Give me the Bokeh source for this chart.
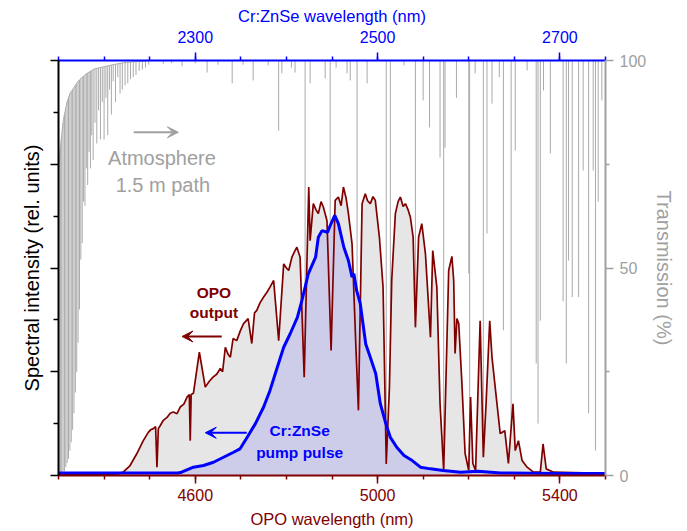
from bokeh.plotting import figure
from bokeh.models import (Range1d, LinearAxis, FixedTicker, Label, Arrow, VeeHead,
                          CustomJSTickFormatter)
from bokeh.embed import file_html
from bokeh.resources import INLINE

FONT = "Liberation Sans"
BROWN = "#800000"
BLUE = "#0000ff"
GREY = "#a0a0a0"
LINE_GREY = "#aaaaaa"

# ---------------- data ----------------
# OPO output spectrum: wavelength (nm) and relative intensity
opo_wl = [4300, 4391, 4431, 4442, 4457, 4472, 4486, 4497, 4502, 4508, 4513,
          4516, 4519, 4523, 4530, 4538, 4545, 4552, 4560, 4567, 4575, 4582, 4587, 4589, 4591,
          4596, 4609, 4622, 4630, 4639, 4647, 4655, 4660, 4666, 4672, 4677, 4683, 4691, 4699,
          4706, 4716, 4724, 4730, 4735, 4742, 4750, 4757, 4764, 4772, 4783, 4794, 4800, 4805,
          4812, 4818, 4823, 4830, 4839, 4849, 4852, 4859, 4865, 4870, 4876, 4881, 4889,
          4898, 4907, 4914, 4920, 4925, 4931, 4936, 4944, 4953, 4958, 4966, 4973,
          4978, 4984, 4990, 4995, 5004, 5012, 5019, 5026, 5031, 5039, 5045, 5050, 5056, 5061,
          5067, 5072, 5078, 5083, 5090, 5097, 5105, 5116, 5121, 5130, 5137,
          5145, 5156, 5163, 5167, 5170, 5174, 5178, 5185, 5192, 5200,
          5204, 5209, 5215, 5225, 5232, 5238, 5246, 5251, 5258, 5269,
          5279, 5287, 5297, 5302, 5309, 5317, 5328, 5342, 5357, 5363,
          5370, 5386, 5430, 5500]
opo_int = [0.002, 0.002, 0.004, 0.008, 0.024, 0.053, 0.084, 0.104, 0.110, 0.113, 0.118,
           0.020, 0.113, 0.120, 0.133, 0.140, 0.150, 0.153, 0.149, 0.165, 0.172, 0.189, 0.195, 0.084, 0.195,
           0.198, 0.297, 0.213, 0.226, 0.237, 0.244, 0.258, 0.250, 0.309, 0.292, 0.285, 0.330, 0.325, 0.349,
           0.366, 0.378, 0.318, 0.392, 0.398, 0.416, 0.430, 0.441, 0.454, 0.470, 0.325, 0.510, 0.500, 0.494,
           0.526, 0.540, 0.550, 0.526, 0.237, 0.695, 0.566, 0.655, 0.640, 0.631, 0.660, 0.647, 0.614,
           0.301, 0.663, 0.671, 0.650, 0.695, 0.668, 0.631, 0.558, 0.293, 0.157, 0.655, 0.679,
           0.662, 0.655, 0.672, 0.663, 0.574, 0.454, 0.028, 0.213, 0.470, 0.631, 0.660, 0.671, 0.648, 0.655,
           0.640, 0.622, 0.574, 0.357, 0.574, 0.607, 0.534, 0.333, 0.542, 0.454, 0.173,
           0.012, 0.494, 0.528, 0.470, 0.294, 0.378, 0.366, 0.222, 0.053, 0.012,
           0.189, 0.029, 0.012, 0.373, 0.044, 0.173, 0.373, 0.285, 0.213, 0.101,
           0.108, 0.029, 0.173, 0.060, 0.084, 0.036, 0.020, 0.008, 0.008, 0.076,
           0.016, 0.008, 0.007, 0.005]

# Cr:ZnSe pump pulse spectrum: wavelength (nm) and relative intensity
pump_wl = [2150, 2200, 2250, 2281, 2285, 2298, 2309, 2320, 2331, 2342,
           2349, 2357, 2366, 2375, 2382, 2390, 2397, 2404, 2412, 2417,
           2424, 2432, 2435, 2439, 2445, 2448, 2453, 2457, 2463, 2468,
           2472, 2474, 2477, 2481, 2487, 2492, 2498, 2503, 2509, 2514,
           2521, 2529, 2538, 2547, 2558, 2572, 2591, 2610, 2635, 2700, 2750]
pump_int = [0.006, 0.006, 0.006, 0.006, 0.008, 0.020, 0.024, 0.032, 0.044, 0.056,
            0.064, 0.092, 0.125, 0.165, 0.205, 0.261, 0.309, 0.341, 0.381, 0.422,
            0.486, 0.526, 0.574, 0.590, 0.586, 0.602, 0.627, 0.607, 0.550, 0.518,
            0.478, 0.486, 0.446, 0.414, 0.317, 0.285, 0.245, 0.173, 0.125, 0.092,
            0.068, 0.048, 0.036, 0.020, 0.016, 0.012, 0.008, 0.010, 0.006, 0.005, 0.005]

# Atmospheric transmission, CO2 band edge: line centre (nm), upper and lower transmission (%)
band_wl = [4301, 4304, 4307, 4310, 4313, 4316, 4319, 4322, 4325, 4328,
           4331, 4334, 4337, 4340, 4343, 4346, 4349, 4352, 4355, 4358,
           4361, 4364, 4367, 4370, 4373, 4376, 4380, 4384, 4388, 4392,
           4396, 4400, 4404, 4408, 4412, 4416, 4420, 4425, 4430, 4435,
           4440, 4446, 4452, 4458, 4464, 4470, 4477, 4484, 4491, 4498]
band_top = [74, 79, 82, 85, 87, 88.5, 90, 91, 92, 92.5,
            93, 93.5, 94, 94.5, 95, 95.3, 95.6, 96, 96.2, 96.5,
            96.8, 97, 97.2, 97.4, 97.6, 97.8, 98, 98.1, 98.2, 98.3,
            98.4, 98.5, 98.6, 98.7, 98.8, 98.9, 99, 99.1, 99.2, 99.3,
            99.4, 99.5, 99.6, 99.6, 99.7, 99.7, 99.8, 99.8, 99.9, 99.9]
band_min = [0, 0, 0.5, 1, 1, 2, 3, 4, 6, 8,
            11, 15, 20, 25, 32, 40, 52, 56, 66, 65,
            74, 70, 78, 74, 82, 76, 85, 80, 88, 81,
            90, 81, 91, 82, 93, 87, 95, 90, 96, 92,
            93, 94, 94.5, 95.5, 96, 96.5, 97.5, 97.8, 98.3, 99]

# Atmospheric transmission, isolated absorption lines: centre (nm), minimum transmission (%)
line_wl = [4530, 4548, 4571, 4600, 4626, 4650, 4681, 4705, 4727, 4760,
           4783, 4790, 4811, 4819, 4841, 4852, 4885, 4896, 4909, 4933,
           4940, 4955, 4977, 5019, 5028, 5058, 5083, 5100, 5114, 5137,
           5145, 5148, 5173, 5200, 5202, 5214, 5232, 5240, 5251, 5267,
           5276, 5293, 5302, 5328, 5348, 5352, 5357, 5364, 5379, 5407,
           5414, 5419, 5427, 5441, 5451, 5463, 5473, 5478, 5484, 5492]
line_min = [99.2, 99.4, 98.6, 99.3, 97.1, 99.0, 94.5, 99.0, 95.2, 98.8,
            83.1, 96.9, 98.3, 97.1, 23, 94.5, 95.7, 60, 98.3, 96.9,
            95.2, 16, 94.5, 3, 30, 98.8, 35, 90.4, 83.9, 76.6,
            1, 79, 91, 48.7, 1, 96.9, 4, 58.3, 89.6, 96,
            35, 3, 78.3, 97.6, 27, 12.5, 37.3, 92.8, 77.6, 42,
            27, 51.8, 43, 43, 73.5, 15, 73.5, 6, 66, 90.4]
line_top = [100] * len(line_wl)

# axis ticks
opo_ticks = [4600, 5000, 5400]
opo_minor = [4300, 4400, 4500, 4600, 4700, 4800, 4900, 5000, 5100, 5200, 5300, 5400, 5500]
pump_ticks = [2300, 2500, 2700]
pump_minor = [2150, 2200, 2250, 2300, 2350, 2400, 2450, 2500, 2550, 2600, 2650, 2700, 2750]
int_ticks = [0, 0.25, 0.5, 0.75, 1.0]
int_minor = [0.125, 0.375, 0.625, 0.875]
trans_ticks = [0, 50, 100]
trans_minor = [25, 75]

# ---------------- figure ----------------
p = figure(width=687, height=531, output_backend="svg", toolbar_location=None,
           x_range=Range1d(4300, 5500), y_range=Range1d(0, 1),
           min_border_left=58, min_border_right=82, min_border_top=60, min_border_bottom=56)
p.extra_x_ranges = {"pump": Range1d(2150, 2750)}
p.extra_y_ranges = {"trans": Range1d(0, 100)}
p.xgrid.visible = False
p.ygrid.visible = False
p.outline_line_color = None
p.background_fill_color = "white"
p.border_fill_color = "white"


def style_axis(ax, color, major, minor):
    ax.ticker = FixedTicker(ticks=major, minor_ticks=minor)
    ax.axis_line_color = color
    ax.axis_line_width = 2
    ax.major_tick_line_color = color
    ax.minor_tick_line_color = color
    ax.major_tick_line_width = 1.5
    ax.minor_tick_line_width = 1.5
    ax.major_tick_in = 0
    ax.major_tick_out = 8
    ax.minor_tick_in = 0
    ax.minor_tick_out = 4
    ax.major_label_text_color = color
    ax.major_label_text_font = FONT
    ax.major_label_text_font_size = "16px"
    ax.major_label_standoff = 5
    ax.axis_label_text_color = color
    ax.axis_label_text_font = FONT
    ax.axis_label_text_font_style = "normal"
    ax.axis_label_text_font_size = "16.5px"
    ax.axis_label_standoff = 6


bottom = p.xaxis[0]
style_axis(bottom, BROWN, opo_ticks, opo_minor)
bottom.axis_label = "OPO wavelength (nm)"

left = p.yaxis[0]
style_axis(left, "black", int_ticks, int_minor)
left.formatter = CustomJSTickFormatter(code="return ''")
left.minor_tick_out = 5
left.axis_label = "Spectral intensity (rel. units)"
left.axis_label_text_font_size = "20px"
left.axis_label_standoff = 8

top = LinearAxis(x_range_name="pump")
style_axis(top, BLUE, pump_ticks, pump_minor)
top.major_label_standoff = 10
top.axis_label_standoff = 3
top.axis_label = "Cr:ZnSe wavelength (nm)"
p.add_layout(top, "above")

right = LinearAxis(y_range_name="trans")
style_axis(right, GREY, trans_ticks, trans_minor)
right.major_label_standoff = 6
right.axis_label = "Transmission (%)"
right.axis_label_text_font_size = "20px"
right.axis_label_standoff = 4
p.add_layout(right, "right")

# atmospheric transmission (right axis)
p.segment(x0=band_wl, y0=band_top, x1=band_wl, y1=band_min, y_range_name="trans",
          line_color=LINE_GREY, line_width=1)
p.line(band_wl, band_top, y_range_name="trans", line_color=LINE_GREY, line_width=1)
p.segment(x0=line_wl, y0=line_top, x1=line_wl, y1=line_min, y_range_name="trans",
          line_color=LINE_GREY, line_width=1)

# filled spectra
p.varea(x=opo_wl, y1=0, y2=opo_int, fill_color="#e6e6e6")
p.varea(x=pump_wl, y1=0, y2=pump_int, x_range_name="pump", fill_color="#cdcde9")
p.line(opo_wl, opo_int, line_color=BROWN, line_width=1.7)
p.line(pump_wl, pump_int, x_range_name="pump", line_color=BLUE, line_width=3)


# annotations
def add_label(x, y, text, color, size, bold=False):
    p.add_layout(Label(x=x, y=y, text=text, text_color=color, text_font=FONT,
                       text_font_size=size, text_font_style="bold" if bold else "normal",
                       text_align="center", text_baseline="middle"))


def add_arrow(x0, x1, y, color):
    p.add_layout(Arrow(end=VeeHead(size=11, fill_color=color, line_color=color),
                       x_start=x0, y_start=y, x_end=x1, y_end=y,
                       line_color=color, line_width=2))


add_label(4527, 0.766, "Atmosphere", GREY, "20px")
add_label(4529, 0.699, "1.5 m path", GREY, "20px")
add_arrow(4465, 4563, 0.827, GREY)

add_label(4641, 0.442, "OPO", BROWN, "15.5px", bold=True)
add_label(4641, 0.392, "output", BROWN, "15.5px", bold=True)
add_arrow(4658, 4571, 0.335, BROWN)

add_label(4829, 0.108, "Cr:ZnSe", BLUE, "15.5px", bold=True)
add_label(4829, 0.056, "pump pulse", BLUE, "15.5px", bold=True)
add_arrow(4713, 4622, 0.103, BLUE)

open("out.html", "w").write(file_html(p, INLINE))
